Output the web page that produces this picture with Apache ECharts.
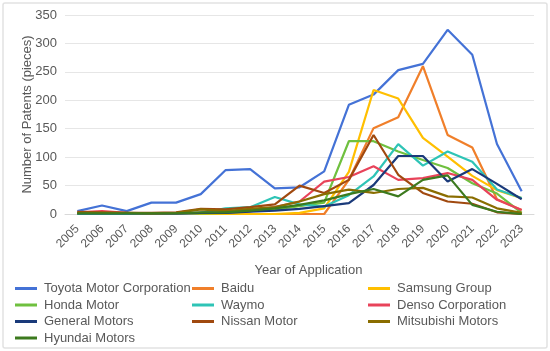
<!DOCTYPE html>
<html><head><meta charset="utf-8">
<script src="https://cdn.jsdelivr.net/npm/echarts@6/dist/echarts.min.js"></script>
<style>html,body{margin:0;padding:0;background:#fff}#c{width:550px;height:351px}</style>
</head><body><div id="c"></div>
<script>
const years = ['2005','2006','2007','2008','2009','2010','2011','2012','2013','2014','2015','2016','2017','2018','2019','2020','2021','2022','2023'];
const toyota     = [5,15,5,20,20,35,77,79,45,47,75,192,210,253,264,324,280,123,40];
const baidu      = [0,0,0,0,0,0,0,0,0,0,0,60,151,170,260,139,117,26,7];
const samsung    = [0,0,0,0,0,0,0,0,0,2,10,74,218,203,134,101,67,42,28];
const honda      = [1,1,1,1,1,1,2,5,8,14,20,128,128,110,95,81,54,36,2];
const waymo      = [0,0,0,0,0,2,10,12,30,17,13,33,66,123,85,110,92,43,28];
const denso      = [3,5,2,1,1,2,3,5,12,22,57,65,84,60,63,72,60,25,7];
const gm         = [1,1,1,1,1,2,2,4,6,9,14,19,51,102,102,57,79,53,26];
const nissan     = [4,3,2,2,3,9,8,12,17,50,37,60,139,69,37,22,18,3,0];
const mitsubishi = [2,2,2,1,2,8,5,9,12,22,35,43,37,44,46,31,29,10,2];
const hyundai    = [1,1,1,1,1,3,3,6,10,16,24,35,44,31,60,68,16,4,0];
const seriesNames = ['Toyota Motor Corporation','Baidu','Samsung Group','Honda Motor','Waymo','Denso Corporation','General Motors','Nissan Motor','Mitsubishi Motors','Hyundai Motors'];
const seriesData = [toyota,baidu,samsung,honda,waymo,denso,gm,nissan,mitsubishi,hyundai];
const colors = ['#4472d6','#f07f2a','#ffbf00','#6fc03f','#2ec4b6','#e8435a','#1a3a7a','#a0490f','#8a6d00','#3c7a1e'];

const chart = echarts.init(document.getElementById('c'), null, {renderer:'canvas'});
const font = 'Helvetica, Arial, "Liberation Sans", sans-serif';
const colLeft = [10,187,363];
const rowTop = [277,293.5,310,326.5];
const legends = seriesNames.map((n,i)=>({show:true, orient:'horizontal',
  left:colLeft[i%3], top:rowTop[Math.floor(i/3)], itemWidth:22, itemHeight:3, icon:'rect', data:[n],
  textStyle:{fontFamily:font,fontSize:13,color:'#595959',padding:[0,0,0,2]}}));
chart.setOption({
  animation:false,
  color:colors,
  graphic:[{type:'rect',shape:{x:3,y:3,width:544,height:345,r:2},style:{fill:'none',stroke:'#e2e2e2',lineWidth:1.5},silent:true}],
  grid:{left:65,right:16,top:15,height:199},
  legend:legends,
  xAxis:{type:'category',data:years,boundaryGap:true,
    name:'Year of Application',nameLocation:'middle',nameGap:50,nameMoveOverlap:false,
    nameTextStyle:{fontFamily:font,fontSize:13,color:'#595959',padding:[0,0,0,18]},
    axisLine:{lineStyle:{color:'#d9d9d9'}},
    axisTick:{alignWithLabel:true,lineStyle:{color:'#d9d9d9'},length:4},
    axisLabel:{rotate:45,fontFamily:font,fontSize:12,color:'#595959',margin:13,interval:0}},
  yAxis:{type:'value',min:0,max:350,interval:50,
    name:'Number of Patents (pieces)',nameLocation:'middle',nameGap:31,nameMoveOverlap:false,
    nameTextStyle:{fontFamily:font,fontSize:13,color:'#595959'},
    axisLine:{show:false},axisTick:{show:false},
    splitLine:{lineStyle:{color:'#e6e6e6',width:1.2}},
    axisLabel:{fontFamily:font,fontSize:13,color:'#595959',margin:8}},
  series:seriesNames.map((n,i)=>({name:n,type:'line',data:seriesData[i],showSymbol:false,symbol:'none',
    lineStyle:{width:2.2,color:colors[i]},itemStyle:{color:colors[i]}}))
});
</script></body></html>
